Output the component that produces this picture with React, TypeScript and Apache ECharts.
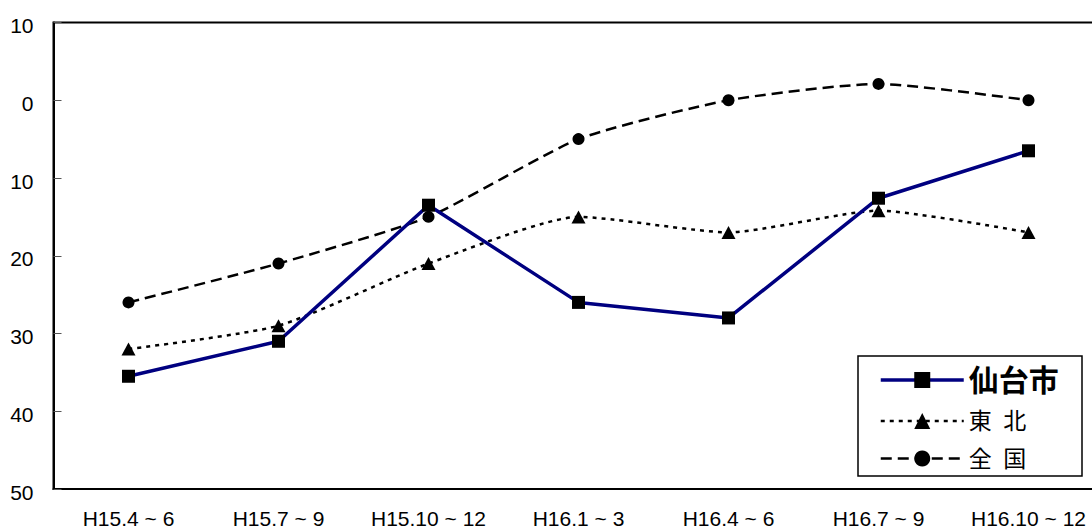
import React, { useEffect, useRef } from "react";
import * as echarts from "echarts";

// Quarterly periods (Heisei era)
const categories = [
  "H15.4 ~ 6",
  "H15.7 ~ 9",
  "H15.10 ~ 12",
  "H16.1 ~ 3",
  "H16.4 ~ 6",
  "H16.7 ~ 9",
  "H16.10 ~ 12",
];

// Survey index values by region
const sendaiValues = [-35.5, -31, -13.5, -26, -28, -12.6, -6.5];
const tohokuValues = [-32, -29, -21, -15, -17, -14.2, -17];
const nationalValues = [-26, -21, -15, -5, 0, 2.1, 0];

const seriesNames = ["仙台市", "東\u2002北", "全\u2002国"];

const FONT = '"Liberation Sans", Arial, "Noto Sans CJK JP", sans-serif';

export default function App() {
  const ref = useRef<HTMLDivElement>(null);

  useEffect(() => {
    if (!ref.current) return;
    const chart = echarts.init(ref.current, null, { renderer: "svg" });
    chart.setOption({
      animation: false,
      backgroundColor: "#ffffff",
      textStyle: { fontFamily: FONT },
      grid: {
        left: 53.5,
        top: 22.5,
        width: 1050,
        height: 468,
        show: true,
        borderColor: "#000000",
        borderWidth: 2,
        backgroundColor: "transparent",
      },
      xAxis: {
        type: "category",
        data: categories,
        boundaryGap: true,
        axisLine: {
          show: true,
          onZero: false,
          lineStyle: { color: "#000000", width: 2 },
        },
        axisTick: { show: false },
        axisLabel: {
          color: "#000000",
          fontSize: 21,
          fontFamily: FONT,
          margin: 19,
          interval: 0,
        },
        splitLine: { show: false },
      },
      yAxis: {
        type: "value",
        min: -50,
        max: 10,
        interval: 10,
        axisLine: { show: true, lineStyle: { color: "#000000", width: 2 } },
        axisTick: {
          show: true,
          inside: true,
          length: 8,
          lineStyle: { color: "#555555", width: 1 },
        },
        axisLabel: {
          margin: 20,
          formatter: (v: number) => `{a|${Math.abs(v)}}`,
          rich: {
            a: {
              color: "#000000",
              fontSize: 21,
              fontFamily: FONT,
              padding: [6, 0, 0, 0],
            },
          },
        },
        splitLine: { show: false },
      },
      legend: {
        orient: "vertical",
        left: 879,
        top: 365,
        padding: 0,
        itemWidth: 83,
        itemHeight: 20,
        itemGap: 14.5,
        data: seriesNames,
        lineStyle: { width: "inherit" },
        formatter: (name: string) =>
          name === seriesNames[0] ? `{b|${name}}` : `{n|${name}}`,
        textStyle: {
          color: "#000000",
          rich: {
            b: {
              fontSize: 30,
              fontWeight: "bold",
              fontFamily: FONT,
              color: "#000000",
            },
            n: {
              fontSize: 23,
              fontFamily: FONT,
              color: "#000000",
            },
          },
        },
      },
      graphic: [
        {
          type: "rect",
          shape: { x: 858, y: 356, width: 224, height: 120 },
          style: { fill: "#ffffff", stroke: "#000000", lineWidth: 1.5 },
          z: -1,
        },
      ],
      series: [
        {
          name: seriesNames[2],
          type: "line",
          data: nationalValues,
          smooth: 0.2,
          symbol: "circle",
          symbolSize: 12,
          itemStyle: { color: "#000000" },
          lineStyle: { color: "#000000", width: 2.5, type: [11, 6] },
          z: 2,
        },
        {
          name: seriesNames[1],
          type: "line",
          data: tohokuValues,
          smooth: 0.2,
          symbol: "triangle",
          symbolSize: [14, 13],
          itemStyle: { color: "#000000" },
          lineStyle: { color: "#000000", width: 2.5, type: [4, 5] },
          z: 3,
        },
        {
          name: seriesNames[0],
          type: "line",
          data: sendaiValues,
          symbol: "rect",
          symbolSize: 13,
          itemStyle: { color: "#000000" },
          lineStyle: { color: "#000080", width: 3.5 },
          z: 4,
        },
      ],
    });
    return () => chart.dispose();
  }, []);

  return (
    <div
      style={{
        position: "fixed",
        left: 0,
        top: 0,
        width: 1092,
        height: 529,
        overflow: "hidden",
        background: "#ffffff",
      }}
    >
      <div ref={ref} style={{ width: 1104, height: 529 }} />
    </div>
  );
}
